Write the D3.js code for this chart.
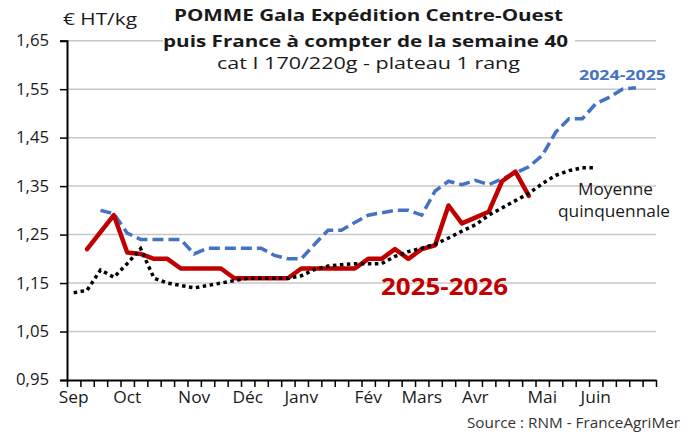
<!DOCTYPE html>
<html><head><meta charset="utf-8">
<script src="https://cdn.jsdelivr.net/npm/d3@7/dist/d3.min.js"></script>
<style>
body{margin:0;background:#fff}
svg{display:block}
text{font-family:'Open Sans','Noto Sans',sans-serif;fill:#1a1a1a}
</style>
</head><body>
<svg id="chart" width="692" height="434"></svg>
<script>
// ---- Data ----
const weeks = [36,37,38,39,40,41,42,43,44,45,46,47,48,49,50,51,52,
               1,2,3,4,5,6,7,8,9,10,11,12,13,14,15,16,17,18,19,20,21,22,23,24,25,26,27];
const monthLabels = ["Sep","","","","Oct","","","","","Nov","","","","Déc","","","","Janv","","","","",
                     "Fév","","","","Mars","","","","Avr","","","","","Mai","","","","Juin","","","",""];
const yTicks = [0.95,1.05,1.15,1.25,1.35,1.45,1.55,1.65];
const season2025_2026 = [null,1.22,1.255,1.29,1.213,1.21,1.20,1.20,1.18,1.18,1.18,1.18,1.16,1.16,1.16,1.16,1.16,
  1.18,1.18,1.18,1.18,1.18,1.20,1.20,1.22,1.20,1.22,1.228,1.31,1.273,1.285,1.297,1.36,1.38,1.33,
  null,null,null,null,null,null,null,null,null];
const season2024_2025 = [null,null,1.30,1.293,1.253,1.24,1.24,1.24,1.24,1.21,1.222,1.222,1.222,1.222,1.222,1.207,1.20,
  1.20,1.23,1.259,1.259,1.275,1.29,1.295,1.30,1.30,1.29,1.34,1.36,1.353,1.362,1.353,1.365,1.377,1.39,
  1.413,1.461,1.489,1.489,1.52,1.533,1.55,1.553,null];
const moyenneQuinquennale = [1.13,1.135,1.177,1.162,1.19,1.221,1.16,1.15,1.145,1.14,1.145,1.15,1.155,1.16,1.16,1.16,1.16,
  1.165,1.178,1.185,1.188,1.19,1.19,1.19,1.205,1.215,1.222,1.23,1.243,1.257,1.27,1.29,1.305,1.32,1.335,
  1.355,1.372,1.382,1.388,1.388,null,null,null,null];

// ---- Layout ----
const svg = d3.select("#chart");
const mLeft = 67, mRight = 656, mTop = 40.7, mBottom = 380;

const x = d3.scaleBand().domain(d3.range(weeks.length)).range([mLeft, mRight]).padding(0);
const xEdge = d3.scaleLinear().domain([0, weeks.length]).range([mLeft, mRight]);
const y = d3.scaleLinear().domain([0.95, 1.65]).range([mBottom, mTop]);
const cx = i => x(i) + x.bandwidth() / 2;
const fmt = d => d.toFixed(2).replace(".", ",");

// gridlines
svg.append("g").selectAll("line").data(yTicks.slice(1)).join("line")
  .attr("x1", mLeft).attr("x2", mRight)
  .attr("y1", d => y(d)).attr("y2", d => y(d))
  .attr("stroke", "#c8c8c8").attr("stroke-width", 1.5);

// title background
svg.append("rect").attr("x", 163).attr("y", 0).attr("width", 412).attr("height", 78).attr("fill", "#fff");

// y axis
const yAxis = svg.append("g").attr("transform", `translate(${mLeft},0)`)
  .call(d3.axisLeft(y).tickValues(yTicks).tickFormat(fmt).tickSize(7).tickPadding(11));
yAxis.select(".domain").attr("stroke", "#000").attr("stroke-width", 2);
yAxis.selectAll(".tick line").attr("stroke", "#000").attr("stroke-width", 1.5);
yAxis.selectAll(".tick text").attr("font-size", 15.5).attr("font-family", "'Open Sans',sans-serif")
  .attr("fill", "#1a1a1a").attr("textLength", 33).attr("lengthAdjust", "spacingAndGlyphs");

// x axis: ticks between categories
const xTicksAxis = svg.append("g").attr("transform", `translate(0,${mBottom})`)
  .call(d3.axisBottom(xEdge).tickValues(d3.range(0, weeks.length + 1)).tickFormat("").tickSize(7).tickSizeOuter(0));
xTicksAxis.select(".domain").attr("stroke", "#000").attr("stroke-width", 2);
xTicksAxis.selectAll(".tick line").attr("stroke", "#000").attr("stroke-width", 1.5);

// x axis labels
const xLab = svg.append("g").attr("transform", `translate(0,${mBottom})`)
  .call(d3.axisBottom(x).tickSize(0).tickPadding(12).tickFormat(i => monthLabels[i]));
xLab.select(".domain").remove();
xLab.selectAll(".tick text").attr("font-size", 15.5).attr("font-family", "'Open Sans',sans-serif").attr("fill", "#1a1a1a")
  .each(function () { const w = this.getComputedTextLength(); if (w > 0) d3.select(this).attr("textLength", w * 1.12).attr("lengthAdjust", "spacingAndGlyphs"); });

// lines
const line = d3.line().defined(d => d != null).x((d, i) => cx(i)).y(d => y(d));
svg.append("path").datum(season2024_2025).attr("d", line)
  .attr("fill", "none").attr("stroke", "#4472C4").attr("stroke-width", 3.5)
  .attr("stroke-dasharray", "11,5");
svg.append("path").datum(season2025_2026).attr("d", line)
  .attr("fill", "none").attr("stroke", "#C00000").attr("stroke-width", 4.5)
  .attr("stroke-linejoin", "round").attr("stroke-linecap", "round");
svg.append("path").datum(moyenneQuinquennale).attr("d", line)
  .attr("fill", "none").attr("stroke", "#000").attr("stroke-width", 3.5)
  .attr("stroke-dasharray", "3.5,3.5");

// texts (fitted to reference widths)
function label(xp, yp, txt, size, width, opts = {}) {
  const t = svg.append("text").attr("x", xp).attr("y", yp).attr("font-size", size)
    .attr("text-anchor", opts.anchor || "start").text(txt);
  if (opts.bold) t.attr("font-weight", "bold");
  if (opts.color) t.style("fill", opts.color);
  if (width) t.attr("textLength", width).attr("lengthAdjust", "spacingAndGlyphs");
  return t;
}
label(63, 25, "€ HT/kg", 16.5, 74);
label(368.5, 21, "POMME Gala Expédition Centre-Ouest", 16.5, 389, {anchor: "middle", bold: true});
label(365.5, 47, "puis France à compter de la semaine 40", 16.5, 405, {anchor: "middle", bold: true});
label(368.5, 69, "cat I 170/220g - plateau 1 rang", 16.5, 303, {anchor: "middle"});
label(622.5, 80, "2024-2025", 15, 87, {anchor: "middle", bold: true, color: "#4472C4"});
label(444.5, 295, "2025-2026", 23, 127, {anchor: "middle", bold: true, color: "#C00000"});
label(615.5, 195, "Moyenne", 15.5, 75, {anchor: "middle"});
label(614, 217, "quinquennale", 15.5, 112, {anchor: "middle"});
label(680, 428, "Source : RNM - FranceAgriMer", 14, 213, {anchor: "end", color: "#333"});
</script>
</body></html>
